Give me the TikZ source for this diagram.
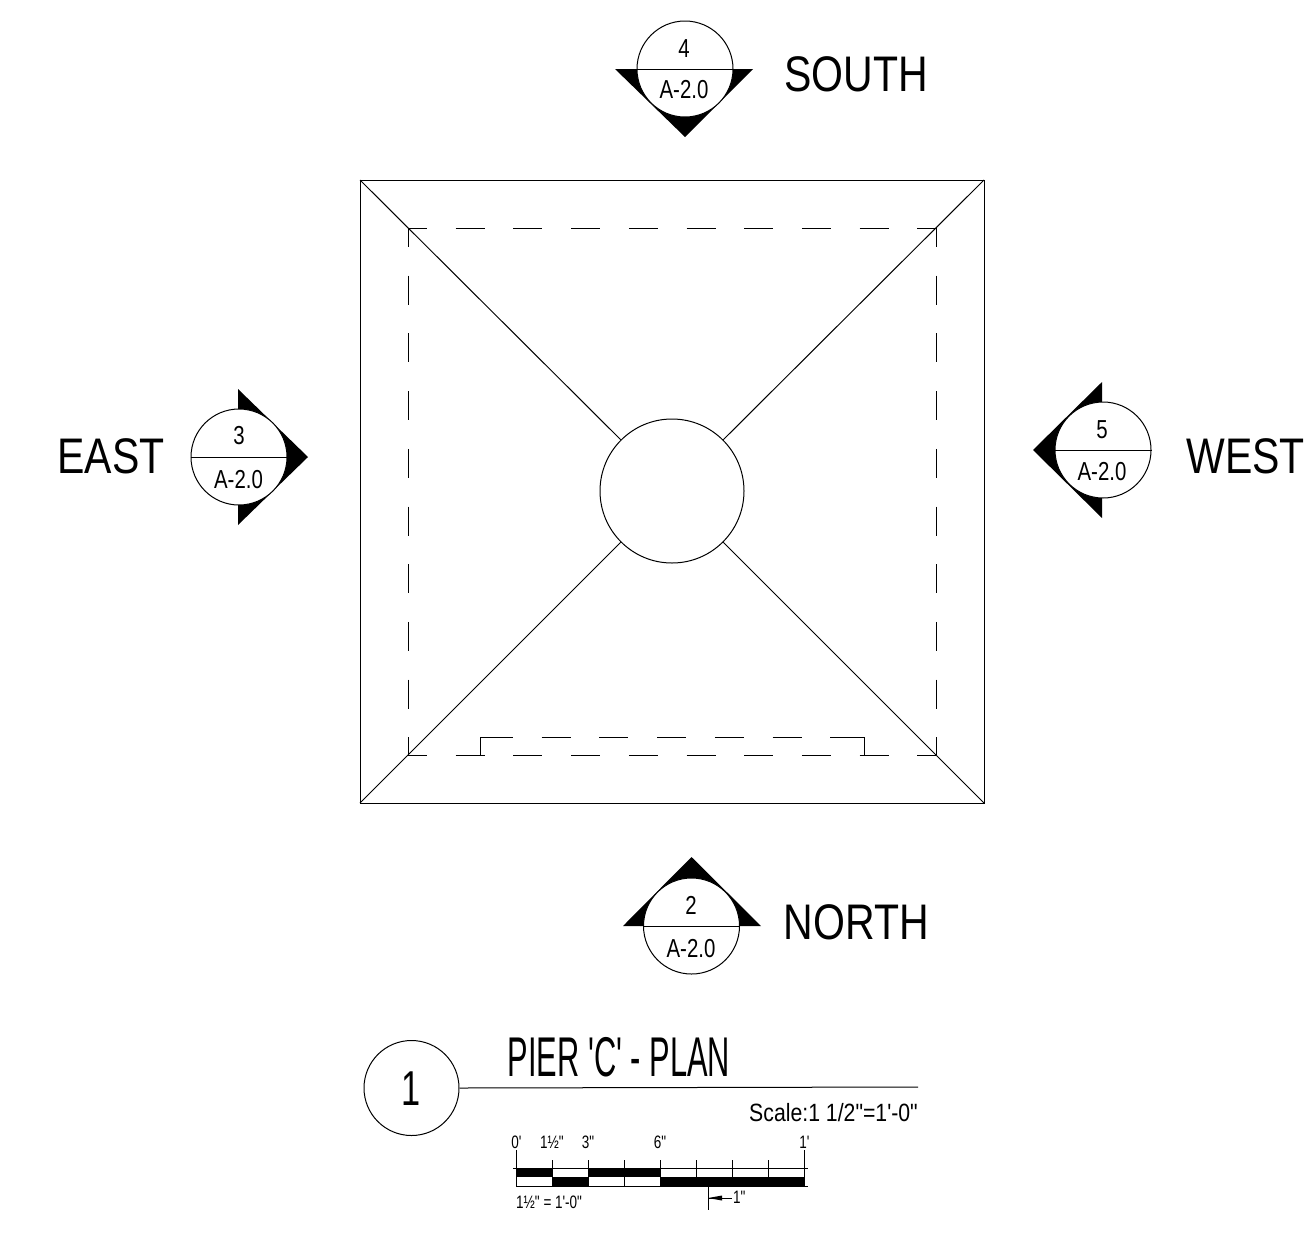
\documentclass[tikz,border=0pt]{standalone}
\usepackage{fontspec}
\setmainfont{Liberation Sans}
\newfontfamily\bigf[FakeStretch=0.82]{Liberation Sans}
\newfontfamily\smallf[FakeStretch=0.785]{Liberation Sans}
\newfontfamily\tinyf[FakeStretch=0.75]{Liberation Sans}
\newfontfamily\scalef[FakeStretch=0.85]{Liberation Sans}
\newfontfamily\titlef[FakeStretch=0.55]{Liberation Sans}
\newfontfamily\onef[FakeStretch=0.70]{Liberation Sans}
\tikzset{
 ink/.style={line width=1pt,black},
 dashline/.style={line width=1pt,black,dash pattern=on 29pt off 28.7pt,dash phase=10pt},
 big/.style={inner sep=0,anchor=base,font=\fontsize{50}{50}\selectfont\bigf},
 small/.style={inner sep=0,anchor=base,font=\fontsize{26}{26}\selectfont\smallf},
 tiny/.style={inner sep=0,anchor=base,font=\fontsize{18}{18}\selectfont\tinyf},
 bubblec/.style={circle,draw,ink,fill=white,minimum size=96pt,inner sep=0},
}
\begin{document}
\begin{tikzpicture}[x=1pt,y=-1pt]
\useasboundingbox (0,0) rectangle (1314,1243);
\fill[white] (0,0) rectangle (1314,1243);
% plan
\draw[ink] (360,180) rectangle (984,803);
\node[circle,draw,ink,minimum size=144pt,inner sep=0] (hub) at (672,491) {};
\coordinate (tl) at (360,180); \coordinate (tr) at (984,180);
\coordinate (bl) at (360,803); \coordinate (br) at (984,803);
\draw[ink] (tl) -- (hub.135); \draw[ink] (tr) -- (hub.45);
\draw[ink] (bl) -- (hub.225); \draw[ink] (br) -- (hub.-45);
% hidden footing
\draw[dashline] (408,228) -- (936,228);
\draw[dashline] (408,228) -- (408,755);
\draw[dashline] (936,228) -- (936,755);
\draw[dashline] (408,755) -- (936,755);
\draw[ink] (480,755) -- (480,737) -- (484,737);
\draw[ink] (864,755) -- (864,737) -- (859,737);
\draw[line width=1pt,dash pattern=on 29pt off 28.7pt] (484,737) -- (859,737);
% section bubbles
\fill (615,69) -- (753,69) -- (685,137) -- cycle;
\node[bubblec] (s) at (685,69) {};
\draw[ink] (s.west) -- (s.east);
\fill (623,926) -- (761,926) -- (691.5,857) -- cycle;
\node[bubblec] (n) at (691.5,926) {};
\draw[ink] (n.west) -- (n.east);
\fill (238,389) -- (308,457) -- (238,525) -- cycle;
\node[bubblec] (e) at (239,457) {};
\draw[ink] (e.west) -- (e.east);
\fill (1102,382) -- (1033,450) -- (1102,518) -- cycle;
\node[bubblec] (w) at (1103,450) {};
\draw[ink] (w.west) -- (w.east);
% bubble labels
\node[small] (s1) at (684,57) {4};   \node[small] (s2) at (684,98) {A-2.0};
\node[small] (n1) at (691,914) {2};  \node[small] (n2) at (691,957) {A-2.0};
\node[small] (e1) at (239,444) {3};  \node[small] (e2) at (238.5,488) {A-2.0};
\node[small] (w1) at (1102,438) {5}; \node[small] (w2) at (1102,480) {A-2.0};
\node[big] (south) at (856,91.5) {SOUTH};
\node[big] (north) at (856.5,939.5) {NORTH};
\node[big] (east) at (111,473.5) {EAST};
\node[big] (west) at (1245.5,473.5) {WEST};
% title
\node[circle,draw,ink,minimum size=95pt,inner sep=0] (tc) at (411.5,1088) {};
\coordinate (tend) at (918,1087);
\draw[ink] (tc.east) -- (tend);
\node[inner sep=0,anchor=base,font=\fontsize{49}{49}\selectfont\onef] (one) at (411,1105.5) {1};
\node[inner sep=0,anchor=base,font=\fontsize{56}{56}\selectfont\titlef] (title) at (619,1076) {PIER 'C' - PLAN};
\node[inner sep=0,anchor=base east,font=\fontsize{25}{25}\selectfont\scalef] (scale) at (918,1121) {Scale:1 1/2"=1'-0"};
% scale bar
\fill (516,1168) rectangle (552,1177);
\fill (588,1168) rectangle (660,1177);
\fill (552,1177) rectangle (588,1186);
\fill (660,1177) rectangle (804,1186);
\draw[ink] (513,1168) -- (808,1168);
\draw[ink] (516,1186) -- (808,1186);
\draw[ink] (516,1150) -- (516,1186);
\draw[ink] (804,1150) -- (804,1186);
\foreach \x in {552,588,...,768} \draw[ink] (\x,1160) -- (\x,1186);
\node[tiny] (l0) at (516.5,1148) {0'};
\node[tiny] (l1) at (552,1148) {1½"};
\node[tiny] (l2) at (588,1148) {3"};
\node[tiny] (l3) at (660,1148) {6"};
\node[tiny] (l4) at (804.5,1148) {1'};
\node[tiny,anchor=base west] (lsc) at (516,1208) {1½" = 1'-0"};
\node[tiny,anchor=base west] (inch) at (733,1203) {1"};
\coordinate (a1) at (708,1187); \coordinate (a2) at (708,1210);
\coordinate (a3) at (708,1198); \coordinate (a4) at (732,1198);
\draw[ink] (a1) -- (a2);
\fill (a3) -- (722,1195.5) -- (722,1200.5) -- cycle;
\draw[ink] (a3) -- (a4);
\end{tikzpicture}
\end{document}
